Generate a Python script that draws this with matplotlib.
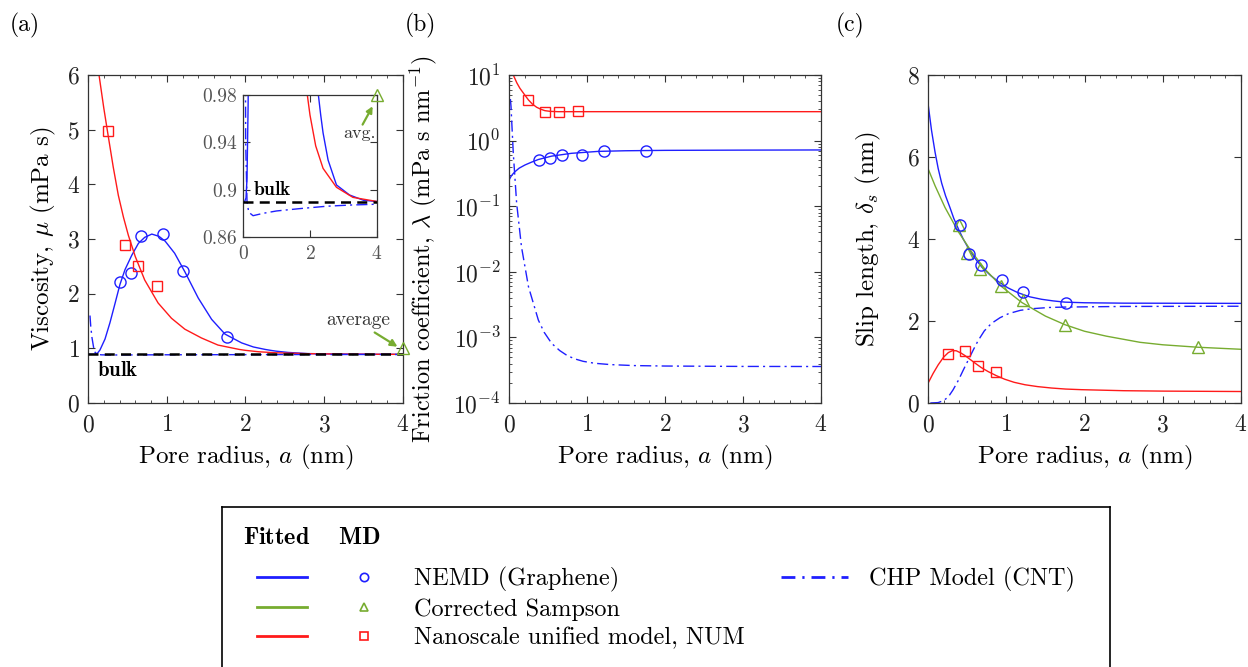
import matplotlib
matplotlib.use("Agg")
import matplotlib.pyplot as plt
from matplotlib.lines import Line2D
from matplotlib.legend_handler import HandlerTuple
from matplotlib.ticker import MultipleLocator, LogLocator, NullFormatter, FixedLocator

plt.rcParams.update({
    "font.family": "serif",
    "font.serif": ["cmr10"],
    "mathtext.fontset": "cm",
    "axes.formatter.use_mathtext": True,
})

BLUE = "#1f1fff"
RED = "#ff1a1a"
GREEN = "#77ac30"

# ---------------- data: panel (a) viscosity ----------------
md_x_nemd = [0.40, 0.54, 0.67, 0.95, 1.21, 1.76]
mu_nemd = [2.21, 2.37, 3.06, 3.09, 2.41, 1.20]
md_x_num = [0.255, 0.47, 0.64, 0.87]
mu_num = [4.98, 2.89, 2.50, 2.14]
mu_bulk = 0.89
avg_x = [4.0]
mu_avg_main = [1.0]
mu_avg_inset = [0.98]

fit_a_blue_x = [0.0, 0.05, 0.09, 0.12, 0.152, 0.216, 0.279, 0.343, 0.406, 0.47, 0.555, 0.64,
                0.72, 0.81, 0.90, 0.98, 1.10, 1.23, 1.40, 1.57, 1.74, 1.95, 2.10, 2.25, 2.32,
                2.39, 2.54, 2.79, 3.18, 3.6, 4.0]
fit_a_blue_y = [0.89, 0.89, 0.893, 0.91, 0.97, 1.17, 1.47, 1.82, 2.17, 2.44, 2.70, 2.92,
                3.03, 3.09, 3.05, 2.96, 2.74, 2.40, 1.92, 1.53, 1.26, 1.10, 1.025, 0.98, 0.963,
                0.948, 0.925, 0.904, 0.8955, 0.891, 0.890]
fit_a_red_x = [0.14, 0.2, 0.255, 0.32, 0.385, 0.45, 0.512, 0.6, 0.72, 0.89, 1.06, 1.23, 1.44,
               1.65, 1.92, 2.0, 2.17, 2.39, 2.79, 3.28, 4.0]
fit_a_red_y = [6.0, 5.4, 4.9, 4.32, 3.80, 3.40, 3.07, 2.68, 2.25, 1.83, 1.55, 1.35, 1.19,
               1.06, 0.98, 0.963, 0.937, 0.918, 0.902, 0.8935, 0.890]
chp_a_x = [0.025, 0.035, 0.05, 0.08, 0.12, 0.17, 0.3, 0.6, 1.0, 1.7, 2.5, 3.2, 4.0]
chp_a_y = [1.60, 1.40, 1.20, 0.94, 0.89, 0.881, 0.878, 0.880, 0.882, 0.884, 0.886, 0.887, 0.8877]

# ---------------- data: panel (b) friction ----------------
md_x_nemd_b = [0.39, 0.53, 0.68, 0.94, 1.22, 1.76]
lam_nemd = [0.51, 0.54, 0.61, 0.61, 0.70, 0.70]
md_x_num_b = [0.245, 0.46, 0.64, 0.88]
lam_num = [4.2, 2.7, 2.7, 2.83]
fit_b_blue_x = [0.0, 0.015, 0.03, 0.05, 0.077, 0.13, 0.205, 0.29, 0.376, 0.547, 0.80, 1.145,
                1.49, 2.0, 3.0, 4.0]
fit_b_blue_y = [0.25, 0.27, 0.29, 0.31, 0.336, 0.38, 0.425, 0.47, 0.515, 0.58, 0.64, 0.685,
                0.70, 0.71, 0.716, 0.72]
fit_b_red_x = [0.055, 0.1, 0.14, 0.2, 0.25, 0.3, 0.355, 0.41, 0.46, 0.53, 0.63, 1.0, 2.0, 4.0]
fit_b_red_y = [10.0, 7.6, 6.27, 5.0, 4.16, 3.6, 3.22, 3.0, 2.86, 2.79, 2.76, 2.76, 2.76, 2.76]
chp_b_x = [0.018, 0.026, 0.034, 0.055, 0.098, 0.16, 0.25, 0.376, 0.45, 0.547, 0.65, 0.75,
           0.85, 0.95, 1.1, 1.3, 1.6, 2.0, 3.0, 4.0]
chp_b_y = [4.3, 3.3, 2.06, 0.64, 0.111, 0.024, 0.0059, 0.00184, 0.0012, 0.00081, 0.00063,
           0.000525, 0.000468, 0.000432, 0.000403, 0.000385, 0.000372, 0.000366, 0.000361,
           0.00036]

# ---------------- data: panel (c) slip length ----------------
md_x_nemd_c = [0.405, 0.53, 0.68, 0.95, 1.215, 1.765]
ds_nemd = [4.35, 3.63, 3.37, 3.0, 2.70, 2.45]
md_x_samp = [0.39, 0.495, 0.665, 0.93, 1.22, 1.75, 3.45]
ds_samp = [4.33, 3.65, 3.27, 2.86, 2.51, 1.91, 1.36]
md_x_num_c = [0.25, 0.47, 0.64, 0.87]
ds_num = [1.19, 1.28, 0.91, 0.76]
fit_c_blue_x = [0.0, 0.045, 0.09, 0.13, 0.175, 0.225, 0.28, 0.33, 0.39, 0.45, 0.515, 0.6, 0.69,
                0.8, 0.9, 1.02, 1.15, 1.3, 1.45, 1.6, 1.75, 2.0, 2.5, 4.0]
fit_c_blue_y = [7.31, 6.65, 6.12, 5.72, 5.36, 5.05, 4.77, 4.50, 4.24, 4.00, 3.78, 3.53, 3.31,
                3.11, 2.96, 2.81, 2.69, 2.59, 2.53, 2.49, 2.46, 2.445, 2.435, 2.43]
fit_c_green_x = [0.0, 0.09, 0.217, 0.39, 0.56, 0.73, 0.94, 1.20, 1.50, 1.75, 2.0, 2.28, 2.71,
                 3.0, 3.45, 4.0]
fit_c_green_y = [5.72, 5.30, 4.77, 4.17, 3.68, 3.26, 2.84, 2.45, 2.12, 1.91, 1.75, 1.63, 1.48,
                 1.42, 1.36, 1.31]
fit_c_red_x = [0.0, 0.065, 0.13, 0.2, 0.26, 0.31, 0.36, 0.42, 0.47, 0.53, 0.6, 0.68, 0.77,
               0.87, 0.98, 1.1, 1.24, 1.4, 1.58, 1.76, 1.96, 2.5, 3.0, 4.0]
fit_c_red_y = [0.48, 0.72, 0.93, 1.12, 1.23, 1.275, 1.275, 1.22, 1.16, 1.075, 0.975, 0.865,
               0.765, 0.67, 0.58, 0.505, 0.445, 0.40, 0.365, 0.34, 0.325, 0.30, 0.29, 0.28]
chp_c_x = [0.03, 0.13, 0.2, 0.26, 0.32, 0.39, 0.45, 0.515, 0.58, 0.64, 0.72, 0.81, 0.92, 1.03,
           1.18, 1.33, 1.55, 1.75, 2.5, 4.0]
chp_c_y = [0.0, 0.01, 0.06, 0.15, 0.32, 0.56, 0.80, 1.05, 1.30, 1.52, 1.76, 1.94, 2.08, 2.18,
           2.26, 2.30, 2.33, 2.34, 2.355, 2.36]

LW = 1.0
DASHDOT = (0, (8, 3, 1.5, 3))
circ = dict(marker="o", ls="none", mfc="none", mec=BLUE, ms=8, mew=1.0, zorder=5)
sq = dict(marker="s", ls="none", mfc="none", mec=RED, ms=6.5, mew=1.0, zorder=5)
tri = dict(marker="^", ls="none", mfc="none", mec=GREEN, ms=8, mew=1.0, zorder=5)

fig = plt.figure(figsize=(12.48, 6.67), dpi=100)
W, H = 1248.0, 667.0


def px_axes(l, t, r, b):
    return fig.add_axes([l / W, 1 - b / H, (r - l) / W, (b - t) / H])


def style(ax, size=17, lab="#222222"):
    ax.tick_params(which="both", direction="in", top=True, right=True,
                   color="#333333", labelcolor=lab, labelsize=size)
    ax.tick_params(which="major", length=5, width=0.8)
    ax.tick_params(which="minor", length=2.5, width=0.6)
    ax.tick_params(axis="x", which="both", pad=8)
    ax.tick_params(axis="y", which="both", pad=6)
    for s in ax.spines.values():
        s.set_color("#333333")
        s.set_linewidth(0.9)


LBL = 18
ARROW = dict(arrowstyle="-|>", color=GREEN, lw=1.6, shrinkA=0, shrinkB=0, mutation_scale=10)
# ---------------- panel (a) ----------------
axa = px_axes(88, 75, 403, 403)
axa.plot(fit_a_blue_x, fit_a_blue_y, color=BLUE, lw=LW)
axa.plot(fit_a_red_x, fit_a_red_y, color=RED, lw=LW)
axa.plot(chp_a_x, chp_a_y, color=BLUE, lw=LW, ls=DASHDOT)
axa.axhline(mu_bulk, color="black", lw=1.8, ls=(0, (4, 2.5)), zorder=3)
axa.plot(md_x_nemd, mu_nemd, **circ)
axa.plot(md_x_num, mu_num, **sq)
axa.plot(avg_x, mu_avg_main, clip_on=False, **tri)
axa.set_xlim(0, 4)
axa.set_ylim(0, 6)
axa.xaxis.set_major_locator(MultipleLocator(1))
axa.xaxis.set_minor_locator(MultipleLocator(0.2))
axa.yaxis.set_major_locator(MultipleLocator(1))
style(axa)
axa.set_xlabel(r"Pore radius, $a$ (nm)", fontsize=LBL, labelpad=5)
axa.set_ylabel(r"Viscosity, $\mu$ (mPa s)", fontsize=LBL)
axa.yaxis.set_label_coords(-0.095, 0.5)
axa.text(0.11, 0.60, r"$\mathbf{bulk}$", fontsize=15, va="center", ha="left")
axa.text(3.43, 1.52, "average", fontsize=14, color="#333333", ha="center", va="center")
axa.annotate("", xy=(3.93, 1.03), xytext=(3.64, 1.29), arrowprops=ARROW, annotation_clip=False)

# inset
axi = px_axes(243, 95, 377, 237)
axi.plot(fit_a_blue_x, fit_a_blue_y, color=BLUE, lw=LW)
axi.plot(fit_a_red_x, fit_a_red_y, color=RED, lw=LW)
axi.plot(chp_a_x, chp_a_y, color=BLUE, lw=LW, ls=DASHDOT)
axi.axhline(mu_bulk, color="black", lw=1.8, ls=(0, (4, 2.5)), zorder=3)
axi.plot(avg_x, mu_avg_inset, clip_on=False, **tri)
axi.set_xlim(0, 4)
axi.set_ylim(0.86, 0.98)
axi.xaxis.set_major_locator(FixedLocator([0, 2, 4]))
axi.yaxis.set_major_locator(FixedLocator([0.86, 0.9, 0.94, 0.98]))
axi.set_yticklabels(["0.86", "0.9", "0.94", "0.98"])
style(axi, size=14, lab="#555555")
axi.tick_params(axis="x", pad=6)
axi.tick_params(axis="y", pad=4)
axi.text(0.30, 0.9, r"$\mathbf{bulk}$", fontsize=14, va="center", ha="left")
axi.text(3.47, 0.9475, "avg.", fontsize=13, color="#333333", ha="center", va="center")
axi.annotate("", xy=(3.87, 0.9705), xytext=(3.57, 0.955), arrowprops=dict(ARROW, mutation_scale=9),
             annotation_clip=False)

# ---------------- panel (b) ----------------
axb = px_axes(509, 75, 821, 403)
axb.plot(fit_b_blue_x, fit_b_blue_y, color=BLUE, lw=LW)
axb.plot(fit_b_red_x, fit_b_red_y, color=RED, lw=LW)
axb.plot(chp_b_x, chp_b_y, color=BLUE, lw=LW, ls=DASHDOT)
axb.plot(md_x_nemd_b, lam_nemd, **circ)
axb.plot(md_x_num_b, lam_num, **sq)
axb.set_yscale("log")
axb.set_xlim(0, 4)
axb.set_ylim(1e-4, 10)
axb.xaxis.set_major_locator(MultipleLocator(1))
axb.xaxis.set_minor_locator(MultipleLocator(0.2))
axb.yaxis.set_major_locator(LogLocator(base=10, numticks=10))
axb.yaxis.set_minor_locator(LogLocator(base=10, subs=range(2, 10), numticks=20))
axb.yaxis.set_minor_formatter(NullFormatter())
style(axb)
axb.set_xlabel(r"Pore radius, $a$ (nm)", fontsize=LBL, labelpad=5)
axb.set_ylabel(r"Friction coefficient, $\lambda$ (mPa s nm$^{-1}$)", fontsize=17.5)
axb.yaxis.set_label_coords(-0.225, 0.47)

# ---------------- panel (c) ----------------
axc = px_axes(928, 75, 1241, 403)
axc.plot(fit_c_blue_x, fit_c_blue_y, color=BLUE, lw=LW)
axc.plot(fit_c_green_x, fit_c_green_y, color=GREEN, lw=LW)
axc.plot(fit_c_red_x, fit_c_red_y, color=RED, lw=LW)
axc.plot(chp_c_x, chp_c_y, color=BLUE, lw=LW, ls=DASHDOT)
axc.plot(md_x_samp, ds_samp, **tri)
axc.plot(md_x_nemd_c, ds_nemd, **circ)
axc.plot(md_x_num_c, ds_num, **sq)
axc.set_xlim(0, 4)
axc.set_ylim(0, 8)
axc.xaxis.set_major_locator(MultipleLocator(1))
axc.xaxis.set_minor_locator(MultipleLocator(0.2))
axc.yaxis.set_major_locator(MultipleLocator(2))
style(axc)
axc.set_xlabel(r"Pore radius, $a$ (nm)", fontsize=LBL, labelpad=5)
axc.set_ylabel(r"Slip length, $\delta_s$ (nm)", fontsize=LBL)
axc.yaxis.set_label_coords(-0.145, 0.5)

# panel letters
for x, s in [(10, "(a)"), (405, "(b)"), (836, "(c)")]:
    fig.text(x / W, 1 - 25 / H, s, fontsize=17, ha="left", va="center")

# ---------------- legend ----------------
lax = fig.add_axes([222 / W, -0.05, (1110 - 222) / W, 0.05 + 1 - 507 / H])
lax.set_xlim(222, 1110)
lax.set_ylim(H + 0.05 * H, 507)
lax.set_xticks([])
lax.set_yticks([])
for s in lax.spines.values():
    s.set_color("black")
    s.set_linewidth(1.2)
lax.text(243, 538, r"$\mathbf{Fitted}$", fontsize=17.5, ha="left", va="center")
lax.text(338, 538, r"$\mathbf{MD}$", fontsize=17.5, ha="left", va="center")

LFS = 17.5
h1 = (Line2D([], [], color=BLUE, lw=2), Line2D([], [], marker="o", ls="none", mfc="none", mec=BLUE, ms=6, mew=1.2))
h2 = (Line2D([], [], color=GREEN, lw=2), Line2D([], [], marker="^", ls="none", mfc="none", mec=GREEN, ms=6, mew=1.2))
h3 = (Line2D([], [], color=RED, lw=2), Line2D([], [], marker="s", ls="none", mfc="none", mec=RED, ms=5.5, mew=1.2))
leg1 = lax.legend([h1, h2, h3], ["NEMD (Graphene)", "Corrected Sampson", "Nanoscale unified model, NUM"],
                  handler_map={tuple: HandlerTuple(ndivide=None, pad=1.32)},
                  loc="upper left", bbox_to_anchor=(257, 567), bbox_transform=lax.transData,
                  frameon=False, fontsize=LFS, handlelength=5.43, handletextpad=1.03,
                  borderpad=0, borderaxespad=0, labelspacing=0.26, numpoints=1)
lax.add_artist(leg1)
h4 = Line2D([], [], color=BLUE, lw=2, ls=(0, (5, 2.5, 0.8, 2.5)))
lax.legend([h4], ["CHP Model (CNT)"], loc="upper left", bbox_to_anchor=(781, 567),
           bbox_transform=lax.transData, frameon=False, fontsize=LFS, handlelength=2.76,
           handletextpad=0.86, borderpad=0, borderaxespad=0)

fig.savefig("out.png", dpi=100)
